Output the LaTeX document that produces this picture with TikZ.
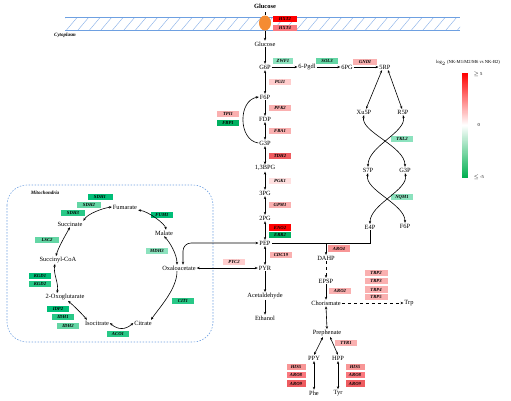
\documentclass[tikz,border=0pt]{standalone}
\usepackage{fontspec}
\setmainfont{Liberation Serif}
\usetikzlibrary{arrows.meta,shapes.geometric}
\definecolor{rA}{RGB}{255,0,0}
\definecolor{rB}{RGB}{238,92,96}
\definecolor{rC}{RGB}{250,120,126}
\definecolor{rD}{RGB}{248,150,150}
\definecolor{rE}{RGB}{250,176,176}
\definecolor{rF}{RGB}{255,205,205}
\definecolor{rG}{RGB}{255,224,224}
\definecolor{gA}{RGB}{0,176,96}
\definecolor{gB}{RGB}{0,190,120}
\definecolor{gC}{RGB}{40,200,135}
\definecolor{gD}{RGB}{100,214,165}
\definecolor{gE}{RGB}{140,226,190}
\definecolor{memb}{RGB}{110,160,225}
\definecolor{hatchc}{RGB}{140,178,232}
\definecolor{orng}{RGB}{245,140,50}
\definecolor{barg}{RGB}{0,176,80}
\begin{document}
\begin{tikzpicture}[x=1pt,y=-1pt,
  met/.style={font=\fontsize{6.4}{7}\selectfont, inner sep=0.8pt},
  enz/.style={font=\fontsize{4.7}{5}\selectfont\bfseries\itshape, minimum width=22pt, minimum height=6.4pt, inner sep=0pt},
  ar/.style={-{Stealth[length=3pt,width=2.4pt]}, line width=0.6pt},
  dar/.style={{Stealth[length=3pt,width=2.4pt]}-{Stealth[length=3pt,width=2.4pt]}, line width=0.6pt},
  lbl/.style={font=\fontsize{4.6}{5}\selectfont},
  ]
\useasboundingbox (0,0) rectangle (511,400);
% membrane
\begin{scope}
\clip (65,17) rectangle (460,30);
\foreach \x in {55,66.5,...,470} \draw[hatchc, line width=0.45pt] (\x,30) -- ({\x+11},17);
\end{scope}
\draw[memb, line width=0.6pt] (65,17) -- (460,17) (65,30) -- (460,30);
\node[font=\fontsize{6.4}{7}\selectfont\bfseries] (glcout) at (265,6) {Glucose};
\node[ellipse, fill=orng, minimum width=12pt, minimum height=15pt, inner sep=0pt] (trans) at (265,23) {};
\node[enz, fill=rA, minimum width=24pt] (hxt2) at (285,19) {HXT2};
\node[enz, fill=rC, minimum width=24pt] (hxt4) at (285,28) {HXT4};
\node[font=\fontsize{5}{6}\selectfont\bfseries\itshape] (cyto) at (65,35) {Cytoplasm};
\draw[line width=0.6pt] (glcout.south) -- (trans.north);
% glycolysis metabolites
\node[met] (glc) at (265,44) {Glucose};
\node[met] (g6p) at (265,67) {G6P};
\node[met] (pgdl) at (307,67) {6-Pgdl};
\node[met] (pg6) at (347,67) {6PG};
\node[met] (rp5) at (385,67) {5RP};
\node[met] (f6p) at (265,97) {F6P};
\node[met] (fdp) at (265,119) {FDP};
\node[met] (g3p) at (265,143) {G3P};
\node[met] (bpg) at (265,168) {1,3BPG};
\node[met] (pg3) at (265,193) {3PG};
\node[met] (pg2) at (265,218) {2PG};
\node[met] (pep) at (265,243) {PEP};
\node[met] (pyr) at (265,268) {PYR};
\node[met] (acet) at (265,296) {Acetaldehyde};
\node[met] (etoh) at (265,318) {Ethanol};
% glycolysis enzymes
\node[enz, fill=gE, minimum width=20pt] (zwf1) at (283,61) {ZWF1};
\node[enz, fill=gD] (sol3) at (327,61) {SOL3};
\node[enz, fill=rE, minimum width=24pt] (gnd1) at (365,62) {GNDI};
\node[enz, fill=rF] (pgi1) at (280,82) {PGI1};
\node[enz, fill=rE] (pfk2) at (280,108) {PFK2};
\node[enz, fill=rE] (fba1) at (280,131) {FBA1};
\node[enz, fill=rE] (tpi1) at (228,114) {TPI1};
\node[enz, fill=gA] (fbp1) at (228,123) {FBP1};
\node[enz, fill=rB] (tdh2) at (280,156) {TDH2};
\node[enz, fill=rG] (pgk1) at (280,181) {PGK1};
\node[enz, fill=rE] (gpm1) at (280,205) {GPM1};
\node[enz, fill=rA] (eno2) at (280,227.5) {ENO2};
\node[enz, fill=gA] (err2) at (280,235) {ERR2};
\node[enz, fill=rE] (cdc19) at (281,255) {CDC19};
\node[enz, fill=rF] (pyc2) at (234,262) {PYC2};
% glycolysis arrows
\draw[ar] (trans.south) -- (glc.north);
\draw[ar] (glc.south) -- (g6p.north);
\draw[ar] (g6p.east) -- (pgdl.west);
\draw[ar] (pgdl.east) -- (pg6.west);
\draw[ar] (pg6.east) -- (rp5.west);
\draw[dar] (g6p.south) -- (f6p.north);
\draw[ar] (f6p.south) -- (fdp.north);
\draw[dar] (fdp.south) -- (g3p.north);
\draw[ar] (g3p.west) .. controls (238,140) and (238,100) .. (f6p.west);
\draw[dar] (g3p.south) -- (bpg.north);
\draw[dar] (bpg.south) -- (pg3.north);
\draw[dar] (pg3.south) -- (pg2.north);
\draw[dar] (pg2.south) -- (pep.north);
\draw[dar] (pep.south) -- (pyr.north);
\draw[ar] (pyr.south) -- (acet.north);
\draw[ar] (acet.south) -- (etoh.north);
% pentose phosphate
\node[met] (xu5p) at (364,112) {Xu5P};
\node[met] (r5p) at (403,112) {R5P};
\node[met] (s7p) at (368,170) {S7P};
\node[met] (g3pb) at (405,170) {G3P};
\node[met] (e4p) at (370,227) {E4P};
\node[met] (f6pb) at (405,226) {F6P};
\node[enz, fill=gE] (tkl2) at (402,139) {TKL2};
\node[enz, fill=gE] (nqm1) at (402,197) {NQM1};
\draw[dar] ([xshift=-3pt]rp5.south) -- ([xshift=2pt]xu5p.north);
\draw[dar] ([xshift=3pt]rp5.south) -- ([xshift=-1pt]r5p.north);
\draw[dar] (xu5p.south) .. controls (360,132) and (405,146) .. (g3pb.north);
\draw[dar] (r5p.south) .. controls (407,132) and (368,146) .. (s7p.north);
\draw[dar] (s7p.south) .. controls (364,190) and (405,204) .. (f6pb.north);
\draw[dar] (g3pb.south) .. controls (409,190) and (370,204) .. (e4p.north);
% aromatic amino acids
\node[met] (dahp) at (326,258) {DAHP};
\node[met] (epsp) at (326,281) {EPSP};
\node[met] (chor) at (326,303) {Chorismate};
\node[met] (trp) at (409,303) {Trp};
\node[met] (preph) at (327,333) {Prephenate};
\node[met] (ppy) at (314,358) {PPY};
\node[met] (hpp) at (338,358) {HPP};
\node[met] (phe) at (314,393) {Phe};
\node[met] (tyr) at (338,393) {Tyr};
\node[enz, fill=rD] (aro4) at (339,248.5) {ARO4};
\node[enz, fill=rE] (aro2) at (340,291) {ARO2};
\node[enz, fill=rE, minimum width=23pt] (trp2) at (376,273) {TRP2};
\node[enz, fill=rE, minimum width=23pt] (trp3) at (376,281) {TRP3};
\node[enz, fill=rE, minimum width=23pt] (trp4) at (376,289.5) {TRP4};
\node[enz, fill=rE, minimum width=23pt] (trp5) at (376,297) {TRP5};
\node[enz, fill=rE] (tyr1) at (346,343) {TYR1};
\node[enz, fill=rD, minimum width=19pt] (his5a) at (296,367) {HIS5};
\node[enz, fill=rC, minimum width=19pt] (aro8a) at (296,375) {ARO8};
\node[enz, fill=rB, minimum width=19pt] (aro9a) at (296,383.5) {ARO9};
\node[enz, fill=rD, minimum width=19pt] (his5b) at (355,367) {HIS5};
\node[enz, fill=rC, minimum width=19pt] (aro8b) at (355,375) {ARO8};
\node[enz, fill=rB, minimum width=19pt] (aro9b) at (355,383.5) {ARO9};
\coordinate (jd) at (dahp.north |- pep.east);
\draw[line width=0.6pt] (e4p.south) |- (pep.east);
\draw[ar] (jd) -- (dahp.north);
\draw[ar, dashed] (dahp.south) -- (epsp.north);
\draw[ar] (epsp.south) -- (chor.north);
\draw[ar, dashed] (chor.east) -- (trp.west);
\draw[dar] (chor.south) -- (preph.north);
\draw[dar] ([xshift=-4pt]preph.south) -- (ppy.north);
\draw[dar] ([xshift=3pt]preph.south) -- (hpp.north);
\draw[dar] (ppy.south) -- (phe.north);
\draw[dar] (hpp.south) -- (tyr.north);
% mitochondria
\draw[memb, line width=0.6pt, dash pattern=on 1.5pt off 1.5pt, rounded corners=20pt] (7,185) rectangle (213,342);
\node[font=\fontsize{5}{6}\selectfont\bfseries\itshape] (mito) at (45,193) {Mitochondria};
\node[met] (fum) at (125,207) {Fumarate};
\node[met] (succ) at (70,224) {Succinate};
\node[met] (scoa) at (58,260) {Succinyl-CoA};
\node[met] (og) at (65,297) {2-Oxoglutarate};
\node[met] (iso) at (97,323) {Isocitrate};
\node[met] (cit) at (143,323) {Citrate};
\node[met] (mal) at (164,233) {Malate};
\node[met] (oaa) at (179,268) {Oxaloacetate};
\node[enz, fill=gB, minimum width=25pt] (sdh1) at (100,197) {SDH1};
\node[enz, fill=gD, minimum width=24pt] (sdh2) at (89,205) {SDH2};
\node[enz, fill=gC, minimum width=24pt] (sdh3) at (73,213) {SDH3};
\node[enz, fill=gD, minimum width=24pt] (lsc2) at (47,240) {LSC2};
\node[enz, fill=gB] (kgd1) at (40,276) {KGD1};
\node[enz, fill=gC] (kgd2) at (40,284) {KGD2};
\node[enz, fill=gB] (idp2) at (58,309) {IDP2};
\node[enz, fill=gC] (idh1) at (63,317) {IDH1};
\node[enz, fill=gD] (idh2) at (68,326) {IDH2};
\node[enz, fill=gC] (aco1) at (118,334) {ACO1};
\node[enz, fill=gC] (cit1) at (183,301) {CIT1};
\node[enz, fill=gB] (fum1) at (162,215) {FUM1};
\node[enz, fill=gE] (mdh3) at (157,251) {MDH3};
\draw[dar] (succ.north east) .. controls +(4,-7) and +(-9,1) .. (fum.west);
\draw[dar] (fum.south east) .. controls +(10,1) and +(-1,-6) .. ([xshift=2pt]mal.north);
\draw[dar] (mal.south) .. controls +(6,6) and +(0,-10) .. ([xshift=-2pt]oaa.north);
\draw[ar] ([xshift=-2pt]oaa.south) .. controls +(0,18) and +(8,-12) .. ([xshift=8pt]cit.north);
\draw[dar] (cit.west) .. controls +(-8,7) and +(8,7) .. (iso.east);
\draw[dar] ([xshift=-10pt]iso.north) .. controls +(-5,-6) and +(6,5) .. ([xshift=3pt]og.south);
\draw[dar] ([xshift=-8pt]og.north) .. controls +(2,-10) and +(-2,10) .. ([xshift=-3pt]scoa.south);
\draw[dar] ([xshift=-2pt]scoa.north) .. controls +(2,-8) and +(-4,7) .. (succ.south);
\draw[dar, rounded corners=8pt] ([xshift=4pt]oaa.north) |- (pep.west);
\draw[dar] (pyr.west) -- (oaa.east);
% legend
\node[lbl] (legt) at (468,63) {log$_2$ (NK-M1/M2/M6 vs NK-B2)};
\foreach \i in {0,...,51} {
  \pgfmathtruncatemacro\p{100-100*\i/52}
  \fill[red!\p!white] (462,{73+\i}) rectangle (468,{74.2+\i});
}
\foreach \i in {0,...,52} {
  \pgfmathtruncatemacro\p{100*\i/52}
  \fill[barg!\p!white] (462,{125+\i}) rectangle (468,{126.2+\i});
}
\node[lbl, anchor=west] (lmax) at (470,74) {$\geq$ 5};
\node[lbl, anchor=west] (lzero) at (474,125) {0};
\node[lbl, anchor=west] (lmin) at (470,177) {$\leq$ -5};
\end{tikzpicture}
\end{document}
